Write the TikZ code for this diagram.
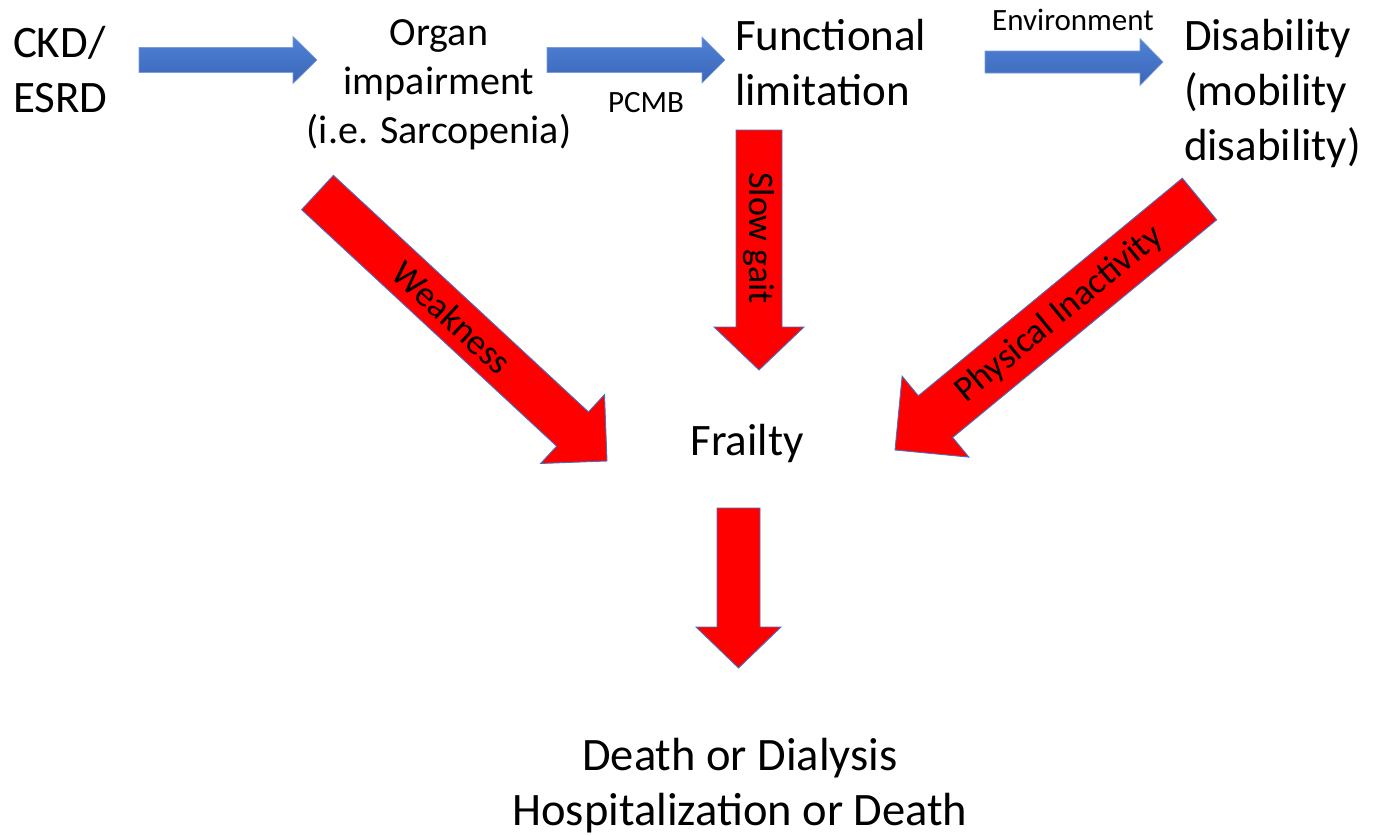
\documentclass[tikz,border=0pt]{standalone}
\usepackage{fontspec}
\setmainfont{Carlito}
\usetikzlibrary{calc}
\definecolor{arrblue}{RGB}{68,114,196}
\definecolor{bluetop}{RGB}{80,130,214}
\definecolor{bluebot}{RGB}{58,102,184}
\newcommand\mystack[2]{\begin{tabular}[t]{@{}#1@{}}#2\end{tabular}}
% #1 style, #2 tail, #3 tip, #4 body half width, #5 head half width, #6 head length
\newcommand\blockarrow[6]{%
  \path coordinate (hb) at ($(#3)!#6!(#2)$);
  \path[#1] ($(#2)!#4!90:(#3)$) -- ($(hb)!#4!-90:(#2)$) -- ($(hb)!#5!-90:(#2)$)
    -- (#3) -- ($(hb)!#5!90:(#2)$) -- ($(hb)!#4!90:(#2)$) -- ($(#2)!#4!-90:(#3)$) -- cycle;
}
\begin{document}
\begin{tikzpicture}[x=1pt,y=-1pt,
  every node/.style={inner sep=0pt, outer sep=0pt, text=black},
  big/.style={font=\fontsize{45}{55}\selectfont},
  bigger/.style={font=\fontsize{46.5}{55}\selectfont},
  mid/.style={font=\fontsize{40}{49}\selectfont},
  small/.style={font=\fontsize{31}{38}\selectfont},
  lab/.style={font=\fontsize{36}{44}\selectfont},
  bluearrow/.style={top color=bluetop, bottom color=bluebot, draw=arrblue!70!white, line width=0.6pt},
  redarrow/.style={fill=red, draw=arrblue, line width=0.9pt}]
\useasboundingbox (0,0) rectangle (1378,835);

% texts
\node[big, anchor=base west] (ckd) at (13,57) {\mystack{l}{CKD/\\ESRD}};
\node[mid, anchor=base] (organ) at (439,45) {\mystack{c}{Organ\\impairment\\(i.e. Sarcopenia)}};
\node[big, anchor=base west] (func) at (735,50) {\mystack{l}{Functional\\limitation}};
\node[big, anchor=base west] (disab) at (1184,50) {\mystack{l}{Disability\\(mobility\\disability)}};
\node[small, anchor=base] (pcmb) at (646,112) {PCMB};
\node[small, anchor=base] (env) at (1073,30) {Environment};
\node[big, anchor=base] (frail) at (747,455) {Frailty};
\node[bigger, anchor=base] (death) at (740,770) {\mystack{c}{Death or Dialysis\\Hospitalization or Death}};

% arrow end points
\coordinate (b1t) at (139,60);   \coordinate (b1h) at (317,60);
\coordinate (b2t) at (547,60);   \coordinate (b2h) at (725,60);
\coordinate (b3t) at (985,62);   \coordinate (b3h) at (1163,62);
\coordinate (wt) at (317.5,192.5); \coordinate (wh) at (607,461);
\coordinate (st) at (759,130);   \coordinate (sh) at (759,370);
\coordinate (pt) at (1199.5,199); \coordinate (ph) at (895,450);
\coordinate (dt) at (738.5,508); \coordinate (dh) at (738.5,668);

% blue arrows
\blockarrow{bluearrow}{b1t}{b1h}{12.5pt}{23.5pt}{24pt}
\blockarrow{bluearrow}{b2t}{b2h}{12.5pt}{23pt}{23pt}
\blockarrow{bluearrow}{b3t}{b3h}{11pt}{23.5pt}{23pt}

% red arrows
\blockarrow{redarrow}{wt}{wh}{23.4pt}{47pt}{47pt}
\blockarrow{redarrow}{st}{sh}{23pt}{45pt}{43pt}
\blockarrow{redarrow}{pt}{ph}{27pt}{52.5pt}{52.5pt}
\blockarrow{redarrow}{dt}{dh}{21.5pt}{42.5pt}{41pt}

% arrow labels
\node[lab, rotate=-42.8] (weak) at ($(wt)!0.465!(wh)$) {Weakness};
\node[lab, rotate=-90] (slow) at ($(st)!0.45!(sh)$) {Slow gait};
\node[lab, rotate=39.5] (phys) at ($(pt)!0.46!(ph)$) {Physical Inactivity};
\end{tikzpicture}
\end{document}
